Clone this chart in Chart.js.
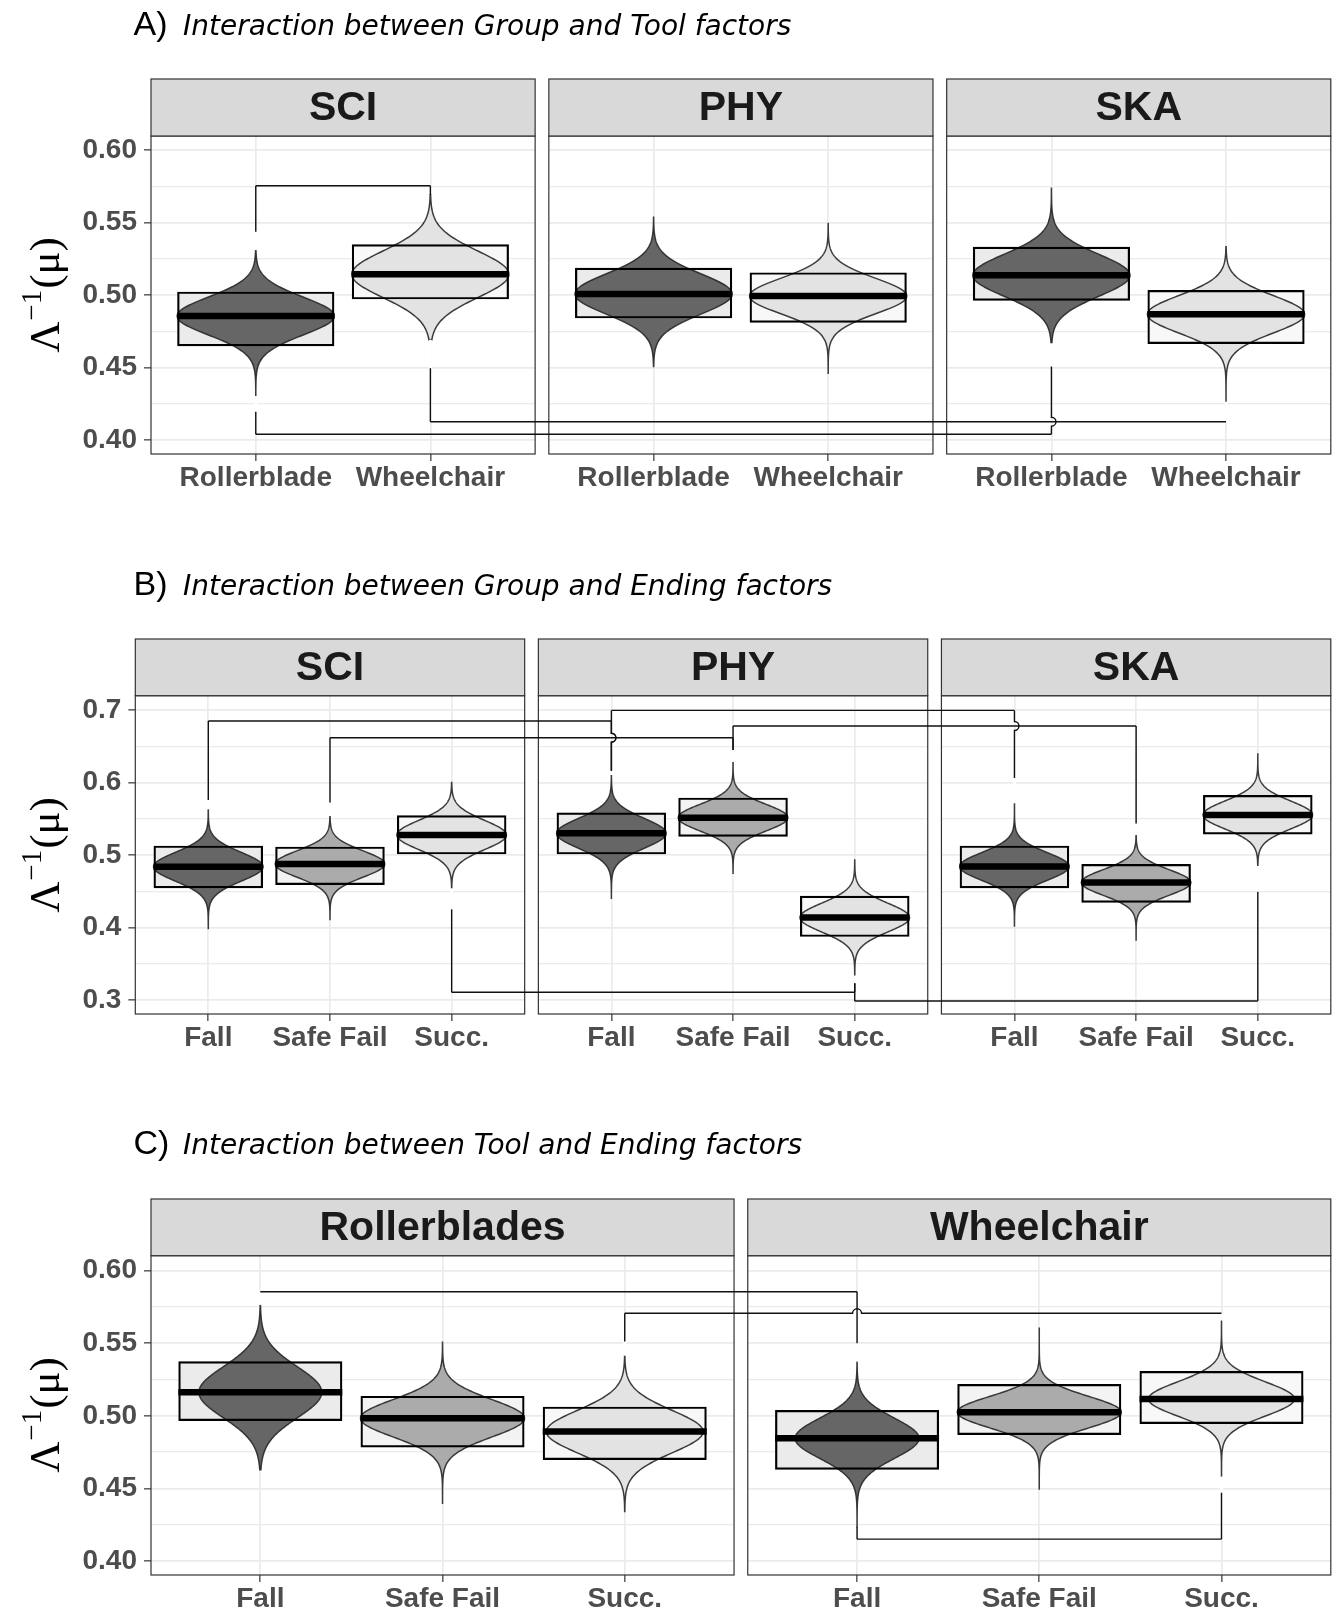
<!DOCTYPE html>
<html>
<head>
<meta charset="utf-8">
<script src="https://cdn.jsdelivr.net/npm/chart.js@4.4.1/dist/chart.umd.min.js"></script>
<style>
  body { margin: 0; background: #fff; }
  #wrap { position: relative; width: 1337px; height: 1610px; overflow: hidden; background: #fff; }
  canvas { position: absolute; left: 0; }
</style>
</head>
<body>
<div id="wrap">
  <canvas id="chartA" width="1337" height="540" style="top:0px"></canvas>
  <canvas id="chartB" width="1337" height="560" style="top:540px"></canvas>
  <canvas id="chartC" width="1337" height="510" style="top:1100px"></canvas>
</div>
<script>
// ---------- A) Group x Tool ----------
const groupsA = ["SCI", "PHY", "SKA"];
const toolsA = ["Rollerblade", "Wheelchair"];
const meanA = [0.4855, 0.5143, 0.5007, 0.4993, 0.5136, 0.4867];
const boxLowA = [0.4646, 0.4970, 0.4839, 0.4809, 0.4961, 0.4662];
const boxHighA = [0.5023, 0.5350, 0.5188, 0.5156, 0.5333, 0.5034];
const tailLowA = [0.4303, 0.4690, 0.4506, 0.4460, 0.4667, 0.4264];
const tailHighA = [0.5310, 0.5690, 0.5536, 0.5494, 0.5736, 0.5333];
const spreadA = [0.0130, 0.0160, 0.0138, 0.0122, 0.0144, 0.0128];
const widthA = [0.45, 0.45, 0.45, 0.45, 0.45, 0.45];
// [from, to, bar value, leg end at from, leg end at to]
const bracketsA = [
  [0, 1, 0.5754, 0.5437, 0.5690],
  [0, 4, 0.4039, 0.4195, 0.4506],
  [1, 5, 0.4126, 0.4495, 0.4126],
];
const yTicksA = [0.40, 0.45, 0.50, 0.55, 0.60];
const yMinorA = [0.425, 0.475, 0.525, 0.575];

// ---------- B) Group x Ending ----------
const groupsB = ["SCI", "PHY", "SKA"];
const endingsB = ["Fall", "Safe Fail", "Succ."];
const meanB = [0.4838, 0.4876, 0.5276, 0.5299, 0.5515, 0.4137, 0.4842, 0.4621, 0.5552];
const boxLowB = [0.4541, 0.4586, 0.5009, 0.5009, 0.5253, 0.3871, 0.4541, 0.4343, 0.5283];
const boxHighB = [0.5129, 0.5115, 0.5547, 0.5586, 0.5791, 0.4437, 0.5129, 0.4876, 0.5828];
const tailLowB = [0.3987, 0.4112, 0.4541, 0.4403, 0.4747, 0.3335, 0.4021, 0.3828, 0.4848];
const tailHighB = [0.5630, 0.5538, 0.6000, 0.6103, 0.6287, 0.4931, 0.5713, 0.5276, 0.6393];
const spreadB = [0.0197, 0.0181, 0.0200, 0.0204, 0.0183, 0.0198, 0.0189, 0.0176, 0.0191];
const widthB = [0.45, 0.45, 0.45, 0.45, 0.45, 0.45, 0.45, 0.45, 0.45];
const bracketsB = [
  [0, 3, 0.6848, 0.5759, 0.6163],
  [3, 6, 0.6994, 0.6163, 0.6062],
  [1, 4, 0.6618, 0.5723, 0.6448],
  [4, 7, 0.6779, 0.6448, 0.5435],
  [2, 5, 0.3106, 0.4251, 0.3230],
  [5, 8, 0.2986, 0.3230, 0.4494],
];
const yTicksB = [0.3, 0.4, 0.5, 0.6, 0.7];
const yMinorB = [0.35, 0.45, 0.55, 0.65];

// ---------- C) Tool x Ending ----------
const toolsC = ["Rollerblades", "Wheelchair"];
const endingsC = ["Fall", "Safe Fail", "Succ."];
const meanC = [0.5162, 0.4983, 0.4891, 0.4845, 0.5025, 0.5116];
const boxLowC = [0.4964, 0.4781, 0.4696, 0.4629, 0.4868, 0.4944];
const boxHighC = [0.5375, 0.5137, 0.5063, 0.5040, 0.5219, 0.5309];
const tailLowC = [0.4629, 0.4398, 0.4340, 0.4236, 0.4496, 0.4581];
const tailHighC = [0.5764, 0.5507, 0.5414, 0.5373, 0.5603, 0.5656];
const spreadC = [0.0175, 0.0128, 0.0146, 0.0138, 0.0108, 0.0117];
const widthC = [0.337, 0.45, 0.43, 0.34, 0.45, 0.40];
const bracketsC = [
  [0, 3, 0.5855, 0.5855, 0.5500],
  [2, 5, 0.5706, 0.5511, 0.5706],
  [3, 5, 0.4150, 0.4236, 0.4470],
];
const yTicksC = [0.40, 0.45, 0.50, 0.55, 0.60];
const yMinorC = [0.425, 0.475, 0.525, 0.575];

// ---------- styling ----------
const DARK = "#666666", MID = "#ABABAB", LIGHT = "#E3E3E3";
const BOX_FILL = { [DARK]: "#EBEBEB", [MID]: "#F3F3F3", [LIGHT]: "#F8F8F8" };
const GAP_PX = 13.7;
const SANS = '"Liberation Sans", Arial, Helvetica, sans-serif';
const SERIF = '"Liberation Serif", "Times New Roman", serif';

const rows = [
  {
    id: "chartA", tag: "A)", title: "Interaction between Group and Tool factors",
    facets: groupsA, cats: toolsA, catColors: [DARK, LIGHT],
    mean: meanA, boxLow: boxLowA, boxHigh: boxHighA, tailLow: tailLowA, tailHigh: tailHighA,
    spread: spreadA, width: widthA, brackets: bracketsA, hop: "v",
    yTicks: yTicksA, yMinor: yMinorA, decimals: 2, yMin: 0.3903, yMax: 0.6097,
    left: 151, right: 1330.8, top: 136, bottom: 454, height: 540,
    stripTop: 79, titleY: 35, axisTitleY: 295,
  },
  {
    id: "chartB", tag: "B)", title: "Interaction between Group and Ending factors",
    facets: groupsB, cats: endingsB, catColors: [DARK, MID, LIGHT],
    mean: meanB, boxLow: boxLowB, boxHigh: boxHighB, tailLow: tailLowB, tailHigh: tailHighB,
    spread: spreadB, width: widthB, brackets: bracketsB, hop: "v",
    yTicks: yTicksB, yMinor: yMinorB, decimals: 1, yMin: 0.2807, yMax: 0.7197,
    left: 135.3, right: 1330.8, top: 155.7, bottom: 474, height: 560,
    stripTop: 99, titleY: 54.5, axisTitleY: 315,
  },
  {
    id: "chartC", tag: "C)", title: "Interaction between Tool and Ending factors",
    facets: toolsC, cats: endingsC, catColors: [DARK, MID, LIGHT],
    mean: meanC, boxLow: boxLowC, boxHigh: boxHighC, tailLow: tailLowC, tailHigh: tailHighC,
    spread: spreadC, width: widthC, brackets: bracketsC, hop: "h",
    yTicks: yTicksC, yMinor: yMinorC, decimals: 2, yMin: 0.3903, yMax: 0.6103,
    left: 151, right: 1330.8, top: 155.7, bottom: 475, height: 510,
    stripTop: 99, titleY: 53.5, axisTitleY: 315,
  },
];

function unitPx(chart) {
  const x = chart.scales.x;
  return x.getPixelForValue(1) - x.getPixelForValue(0);
}

// violins: density outline around the mean, drawn through the chart scales
function drawViolins(chart, row) {
  const { ctx } = chart, x = chart.scales.x, y = chart.scales.y;
  const u = unitPx(chart);
  ctx.save();
  row.mean.forEach((m, k) => {
    const cx = x.getPixelForValue(row.pos[k]);
    const lo = row.tailLow[k], hi = row.tailHigh[k], s = row.spread[k];
    const hw = row.width[k] * u;
    const pts = [];
    for (let j = 0; j <= 200; j++) {
      const v = lo + (hi - lo) * j / 200;
      const r = (v - m) / s;
      pts.push([y.getPixelForValue(v), hw * Math.exp(-0.5 * r * r)]);
    }
    ctx.beginPath();
    pts.forEach(([py, w], j) => (j ? ctx.lineTo(cx + w, py) : ctx.moveTo(cx + w, py)));
    for (let j = pts.length - 1; j >= 0; j--) ctx.lineTo(cx - pts[j][1], pts[j][0]);
    ctx.closePath();
    ctx.fillStyle = row.colors[k];
    ctx.fill();
    ctx.lineWidth = 1.5;
    ctx.strokeStyle = "rgba(40,40,40,0.9)";
    ctx.stroke();
  });
  ctx.restore();
}

function drawPanels(chart, row) {
  const { ctx, chartArea: a } = chart, x = chart.scales.x;
  ctx.save();
  row.facetRange.forEach(([f0, f1], fi) => {
    const l = x.getPixelForValue(f0), r = x.getPixelForValue(f1);
    ctx.lineWidth = 1.2;
    ctx.strokeStyle = "#333333";
    ctx.strokeRect(l, a.top, r - l, a.bottom - a.top);
    ctx.fillStyle = "#D9D9D9";
    ctx.fillRect(l, row.stripTop, r - l, a.top - row.stripTop);
    ctx.strokeRect(l, row.stripTop, r - l, a.top - row.stripTop);
    ctx.fillStyle = "#1A1A1A";
    ctx.font = "bold 41px " + SANS;
    ctx.textAlign = "center";
    ctx.textBaseline = "middle";
    ctx.fillText(row.facets[fi], (l + r) / 2, (row.stripTop + a.top) / 2 + 1);
  });
  ctx.restore();
}

function drawBrackets(chart, row) {
  const { ctx } = chart, x = chart.scales.x, y = chart.scales.y;
  const R = 4.5;
  const verts = [], hors = [], masks = [];
  row.brackets.forEach(([a, b, yb, l1, l2]) => {
    const xa = x.getPixelForValue(row.pos[a]), xb = x.getPixelForValue(row.pos[b]);
    const py = y.getPixelForValue(yb);
    hors.push({ y: py, x1: Math.min(xa, xb), x2: Math.max(xa, xb) });
    [[a, xa, l1], [b, xb, l2]].forEach(([k, px, le]) => {
      const pl = y.getPixelForValue(le);
      verts.push({ x: px, y1: Math.min(py, pl), y2: Math.max(py, pl) });
      const tip = yb > row.mean[k] ? row.tailHigh[k] : row.tailLow[k];
      masks.push({ x: px, y1: y.getPixelForValue(tip), y2: pl });
    });
  });
  ctx.save();
  // white gap between violin tip and bracket leg
  ctx.strokeStyle = "#FFFFFF";
  ctx.lineWidth = 3;
  masks.forEach((m) => {
    if (Math.abs(m.y2 - m.y1) < 1) return;
    ctx.beginPath();
    ctx.moveTo(m.x, m.y1);
    ctx.lineTo(m.x, m.y2);
    ctx.stroke();
  });
  ctx.strokeStyle = "#111111";
  ctx.lineWidth = 1.4;
  verts.forEach((v) => {
    const cross = row.hop === "v"
      ? hors.filter((h) => h.x1 < v.x - 1 && h.x2 > v.x + 1 && h.y > v.y1 + 1 && h.y < v.y2 - 1).map((h) => h.y).sort((p, q) => p - q)
      : [];
    ctx.beginPath();
    ctx.moveTo(v.x, v.y1);
    cross.forEach((cy) => {
      ctx.lineTo(v.x, cy - R);
      ctx.arc(v.x, cy, R, -Math.PI / 2, Math.PI / 2, false);
    });
    ctx.lineTo(v.x, v.y2);
    ctx.stroke();
  });
  hors.forEach((h) => {
    const cross = row.hop === "h"
      ? verts.filter((v) => v.x > h.x1 + 1 && v.x < h.x2 - 1 && h.y > v.y1 + 1 && h.y < v.y2 - 1).map((v) => v.x).sort((p, q) => p - q)
      : [];
    ctx.beginPath();
    ctx.moveTo(h.x1, h.y);
    cross.forEach((cx) => {
      ctx.lineTo(cx - R, h.y);
      ctx.arc(cx, h.y, R, Math.PI, 0, false);
    });
    ctx.lineTo(h.x2, h.y);
    ctx.stroke();
  });
  ctx.restore();
}

function drawTitles(chart, row) {
  const { ctx } = chart;
  ctx.save();
  ctx.fillStyle = "#000000";
  ctx.textAlign = "left";
  ctx.textBaseline = "alphabetic";
  ctx.font = "34px " + SANS;
  ctx.fillText(row.tag, 133.5, row.titleY);
  ctx.font = 'italic 28px "DejaVu Sans", Verdana, sans-serif';
  ctx.fillText(row.title, 183, row.titleY);

  // y axis title: Lambda^-1(mu)
  ctx.translate(46, row.axisTitleY);
  ctx.rotate(-Math.PI / 2);
  const big = "43px " + SERIF;
  const small = "29px " + SERIF;
  ctx.font = big;
  const w1 = ctx.measureText("\u039B").width;
  const w3 = ctx.measureText("(\u03BC)").width;
  ctx.font = small;
  const w2 = ctx.measureText("\u22121").width;
  const total = w1 + w2 + w3 + 2;
  let cx = -total / 2;
  const base = 13;
  ctx.font = big;
  ctx.fillText("\u039B", cx, base);
  cx += w1 + 1;
  ctx.font = small;
  ctx.fillText("\u22121", cx, base - 18);
  cx += w2 + 1;
  ctx.font = big;
  ctx.fillText("(\u03BC)", cx, base);
  ctx.restore();
}

function decoPlugin(row) {
  return {
    id: "deco" + row.id,
    beforeDatasetsDraw(chart) {
      const { ctx, chartArea: a } = chart, x = chart.scales.x;
      ctx.save();
      ctx.fillStyle = "#FFFFFF";
      for (let f = 0; f < row.facetRange.length - 1; f++) {
        const x1 = x.getPixelForValue(row.facetRange[f][1]);
        const x2 = x.getPixelForValue(row.facetRange[f + 1][0]);
        ctx.fillRect(x1, a.top - 1, x2 - x1, a.bottom - a.top + 2);
      }
      ctx.restore();
    },
    afterDatasetDraw(chart, args) {
      if (args.index === 0) drawViolins(chart, row);
    },
    afterDatasetsDraw(chart) {
      drawPanels(chart, row);
      drawBrackets(chart, row);
      drawTitles(chart, row);
    },
  };
}

function makeChart(row) {
  const n = row.cats.length, nF = row.facets.length;
  const uPx = (row.right - row.left - (nF - 1) * GAP_PX) / (nF * (n + 0.2));
  const gapU = GAP_PX / uPx;
  const step = n + 0.2 + gapU;
  const total = nF * (n + 0.2) + (nF - 1) * gapU;
  row.pos = []; row.labels = []; row.colors = [];
  row.facets.forEach((f, fi) => row.cats.forEach((c, ci) => {
    row.pos.push(fi * step + 0.6 + ci);
    row.labels.push(c);
    row.colors.push(row.catColors[ci]);
  }));
  row.facetRange = row.facets.map((f, fi) => [fi * step, fi * step + n + 0.2]);

  const boxData = row.pos.map((p, k) => ({ x: p, y: [row.boxLow[k], row.boxHigh[k]] }));
  const tickFont = { family: SANS, size: 28, weight: "bold" };

  return new Chart(document.getElementById(row.id), {
    type: "bar",
    data: {
      datasets: [
        {
          type: "bar", label: "interval", data: boxData,
          backgroundColor: row.colors.map((c) => BOX_FILL[c]),
          borderWidth: 0, grouped: false, categoryPercentage: 1, barPercentage: 0.9, order: 3,
        },
        {
          type: "bar", label: "interval outline", data: boxData,
          backgroundColor: "rgba(0,0,0,0)", borderColor: "#000000", borderWidth: 2.2,
          borderSkipped: false, grouped: false, categoryPercentage: 1, barPercentage: 0.9, order: 2,
        },
        {
          type: "scatter", label: "mean",
          data: row.pos.map((p, k) => ({ x: p, y: row.mean[k] })),
          pointStyle: "line", borderColor: "#000000", borderWidth: 6.5,
          radius: (ctx) => 0.45 * unitPx(ctx.chart),
          hoverRadius: (ctx) => 0.45 * unitPx(ctx.chart),
          order: 1,
        },
      ],
    },
    options: {
      responsive: false,
      devicePixelRatio: 1,
      animation: false,
      events: [],
      layout: { padding: { top: row.top, right: 1337 - row.right, bottom: 0, left: 0 } },
      plugins: { legend: { display: false }, tooltip: { enabled: false } },
      scales: {
        x: {
          type: "linear", min: 0, max: total, offset: false,
          afterBuildTicks: (ax) => { ax.ticks = row.pos.map((v) => ({ value: v })); },
          afterFit: (ax) => { ax.height = row.height - row.bottom; },
          ticks: {
            callback: (v, i) => row.labels[i], autoSkip: false, maxRotation: 0, minRotation: 0,
            padding: 0, color: "#4D4D4D", font: tickFont,
          },
          grid: { offset: false, color: "#EBEBEB", lineWidth: 1.7, tickLength: 7, tickColor: "#333333", tickWidth: 1.2 },
          border: { display: false },
        },
        y: {
          type: "linear", min: row.yMin, max: row.yMax, beginAtZero: false,
          afterBuildTicks: (ax) => {
            ax.ticks = row.yTicks.map((v) => ({ value: v }))
              .concat(row.yMinor.map((v) => ({ value: v, minor: true })))
              .sort((p, q) => p.value - q.value);
          },
          afterFit: (ax) => { ax.width = row.left; },
          ticks: {
            callback: (v, i, t) => (t[i].minor ? "" : v.toFixed(row.decimals)),
            autoSkip: false, padding: 7, color: "#4D4D4D", font: tickFont,
          },
          grid: {
            color: "#EBEBEB",
            lineWidth: (ctx) => (ctx.tick && ctx.tick.minor ? 1.2 : 1.7),
            tickLength: 7,
            tickWidth: 1.2,
            tickColor: (ctx) => (ctx.tick && ctx.tick.minor ? "rgba(0,0,0,0)" : "#333333"),
          },
          border: { display: false },
        },
      },
    },
    plugins: [decoPlugin(row)],
  });
}

rows.forEach(makeChart);
</script>
</body>
</html>
